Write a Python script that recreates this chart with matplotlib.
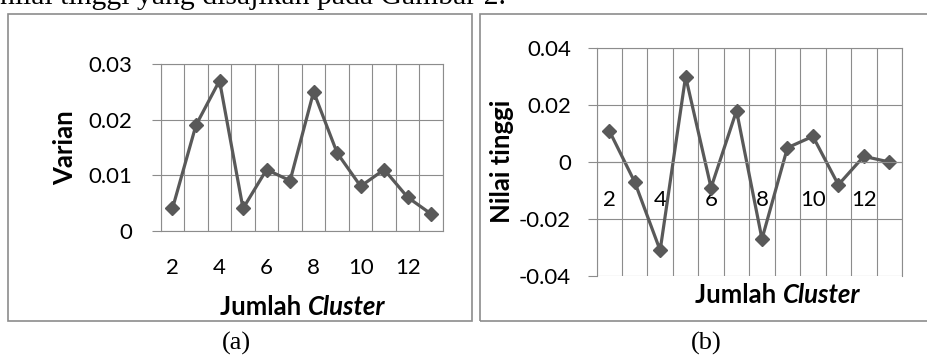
import matplotlib
matplotlib.use('Agg')
import matplotlib.pyplot as plt
from matplotlib.patches import Rectangle
from matplotlib.ticker import FixedLocator

# data
clusters = list(range(2, 14))
varian = [0.004, 0.019, 0.027, 0.004, 0.011, 0.009, 0.025, 0.014, 0.008, 0.011, 0.006, 0.003]
nilai_tinggi = [0.011, -0.007, -0.031, 0.030, -0.009, 0.018, -0.027, 0.005, 0.009, -0.008, 0.002, 0.000]

x_ticks = [2, 4, 6, 8, 10, 12]
x_tick_labels = ['2', '4', '6', '8', '10', '12']
yticks_a = [0, 0.01, 0.02, 0.03]
ylabels_a = ['0', '0.01', '0.02', '0.03']
yticks_b = [-0.04, -0.02, 0, 0.02, 0.04]
ylabels_b = ['-0.04', '-0.02', '0', '0.02', '0.04']

W, H = 927, 356
GRID = '#8c8c8c'
LINE = '#595959'
SANS = 'Lato'
SERIF = 'Liberation Serif'

plt.rcParams['font.family'] = SANS


def px(x):
    return x / W


def py(y):
    return 1 - y / H


fig = plt.figure(figsize=(W / 100, H / 100), dpi=100)

# frames around the two charts
fig.patches.append(Rectangle((px(8), py(321)), px(472 - 8), (321 - 13.5) / H,
                             transform=fig.transFigure, fill=False, ec=GRID, lw=1.2))
fig.patches.append(Rectangle((px(479.5), py(321)), px(935 - 479.5), (321 - 13.5) / H,
                             transform=fig.transFigure, fill=False, ec=GRID, lw=1.2))

ax1 = fig.add_axes([px(160.7), py(230.7), px(443 - 160.7), (230.7 - 64) / H])
ax2 = fig.add_axes([px(596.5), py(276), px(902 - 596.5), (276 - 48) / H])


def style_axes(ax, yticks, ylabels, ypad):
    ax.set_xlim(1.5, 13.5)
    ax.set_ylim(yticks[0], yticks[-1])
    ax.set_xticks(x_ticks, x_tick_labels)
    ax.xaxis.set_minor_locator(FixedLocator([c - 0.5 for c in clusters] + [clusters[-1] + 0.5]))
    ax.set_yticks(yticks, ylabels)
    ax.grid(which='minor', axis='x', color=GRID, lw=0.8)
    ax.grid(which='major', axis='y', color=GRID, lw=0.8)
    ax.tick_params(axis='x', which='both', length=0, pad=20, labelsize=16)
    ax.tick_params(axis='y', length=6.5, color=GRID, width=0.8, pad=ypad, labelsize=16)
    for s in ax.spines.values():
        s.set_color(GRID)
        s.set_linewidth(0.8)
    ax.set_axisbelow(True)
    ax.patch.set_alpha(0)


style_axes(ax1, yticks_a, ylabels_a, 14.2)
style_axes(ax2, yticks_b, ylabels_b, 12)
ax2.spines['bottom'].set_position(('data', 0))

ax1.plot(clusters, varian, color=LINE, lw=2.3, marker='D', ms=7.5, clip_on=False)
ax2.plot(clusters, nilai_tinggi, color=LINE, lw=2.3, marker='D', ms=7.5, clip_on=False)

# axis titles
fig.text(px(65), py(148), 'Varian', rotation=90, ha='center', va='center',
         fontweight='bold', size=18.5)
fig.text(px(502), py(161), 'Nilai tinggi', rotation=90, ha='center', va='center',
         fontweight='bold', size=18.5)

renderer = fig.canvas.get_renderer()


def cluster_label(cx, cy):
    t1 = fig.text(0, py(cy), 'Jumlah ', ha='left', va='center', fontweight='bold', size=18.5)
    t2 = fig.text(0, py(cy), 'Cluster', ha='left', va='center', fontweight='bold',
                  style='italic', size=18.5)
    w1 = t1.get_window_extent(renderer).width
    w2 = t2.get_window_extent(renderer).width
    left = cx - (w1 + w2) / 2
    t1.set_x(px(left))
    t2.set_x(px(left + w1))


cluster_label(303, 307)
cluster_label(777.5, 295)

# captions and the surrounding document text
fig.text(px(236), py(343), '(a)', ha='center', va='center', family=SERIF, size=19)
fig.text(px(706), py(343), '(b)', ha='center', va='center', family=SERIF, size=19)
fig.text(px(0), py(4), 'nilai tinggi yang disajikan pada Gambar 2.', ha='left',
         va='baseline', family=SERIF, size=21.4)

fig.savefig('out.png', dpi=100)
